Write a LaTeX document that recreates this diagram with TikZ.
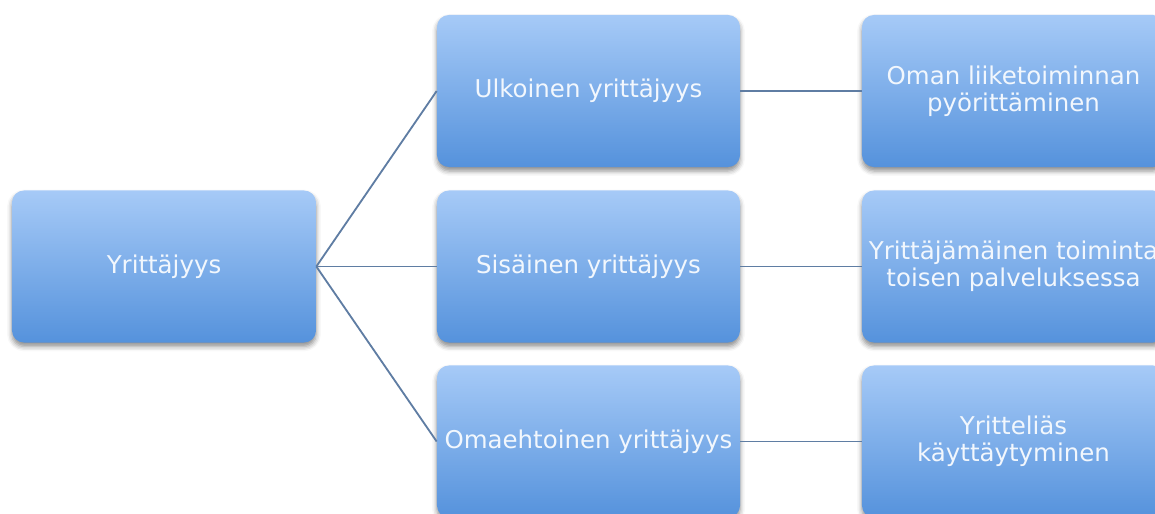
\documentclass[tikz,border=0pt]{standalone}
\usepackage{fontspec}
\usetikzlibrary{positioning,shadows.blur}
\newfontfamily\boxfont{DejaVu Sans}
\definecolor{skytop}{HTML}{A6CAF7}
\definecolor{skybot}{HTML}{5592DC}
\definecolor{wire}{HTML}{5F7DA3}
\definecolor{snow}{HTML}{F2F7FD}

\begin{document}
\begin{tikzpicture}[
  x=0.025cm, y=-0.025cm,
  font=\boxfont\fontsize{17.4}{19.5}\selectfont,
  tile/.style={rounded corners=0.3cm, top color=skytop, bottom color=skybot,
               minimum width=7.575cm, minimum height=3.8cm,
               align=center, text=snow, inner sep=0pt,
               blur shadow={shadow xshift=0pt, shadow yshift=-0.1cm,
                            shadow blur radius=0.12cm, shadow opacity=45}},
  wire/.style={draw=wire, line width=1.3pt},
]
\useasboundingbox (0,0) rectangle (1155,513);
\clip (0,0) rectangle (1155,513);

\node[tile, minimum width=7.6cm] (root) at (164,266.5) {Yrittäjyys};

\node[tile] (ulko) at (588.5,91) {Ulkoinen yrittäjyys};
\node[tile] (sisa) at (588.5,266.5) {Sisäinen yrittäjyys};
\node[tile] (omae) at (588.5,441.5) {Omaehtoinen yrittäjyys};

\node[tile] (oman) at (1013.5,91) {Oman liiketoiminnan\\pyörittäminen};
\node[tile] (toim) at (1013.5,266.5) {Yrittäjämäinen toiminta\\toisen palveluksessa};
\node[tile] (ytel) at (1013.5,441.5) {Yritteliäs\\käyttäytyminen};

\draw[wire] (root.east) -- (ulko.west);
\draw[wire] (root.east) -- (sisa.west);
\draw[wire] (root.east) -- (omae.west);

\draw[wire] (ulko) -- (oman);
\draw[wire] (sisa) -- (toim);
\draw[wire] (omae) -- (ytel);
\end{tikzpicture}
\end{document}
